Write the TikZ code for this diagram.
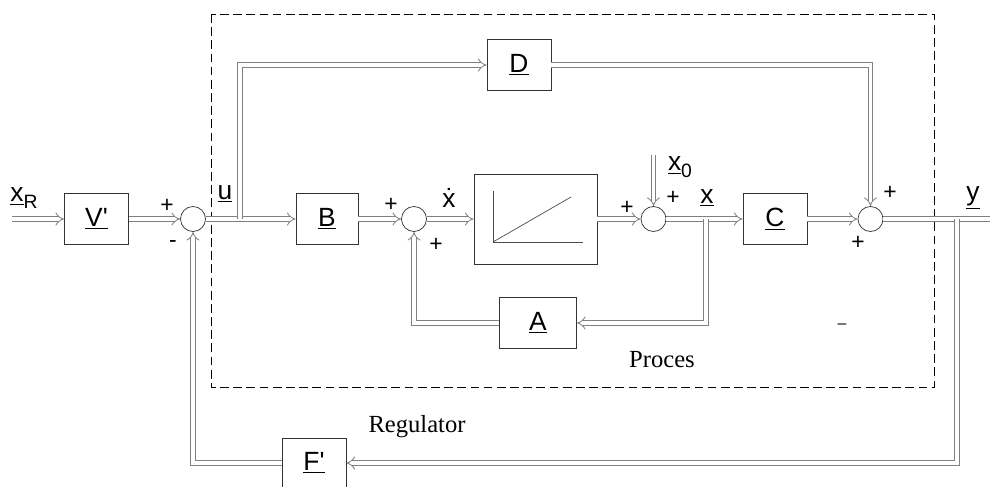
\documentclass[tikz,border=0pt]{standalone}
\usepackage{fontspec}
\setmainfont{Liberation Sans}
\newfontfamily\serif{Liberation Serif}
\usetikzlibrary{arrows.meta, positioning}
\newcommand{\vsub}[1]{\raisebox{-0.45ex}{\fontsize{11}{12}\selectfont #1}}

\begin{document}
\begin{tikzpicture}[
  x=0.02cm, y=-0.02cm,
  block/.style={rectangle, draw=black!80, thin, fill=white, minimum width=1.28cm, minimum height=1.02cm, font=\fontsize{15}{17}\selectfont},
  sum/.style={circle, draw=black!80, thin, fill=white, minimum size=0.5cm, inner sep=0pt},
  bus/.style={draw=black!50, double=white, double distance=2.2pt, line width=0.45pt},
  arrow/.style={bus, -{Implies}},
  sign/.style={font=\fontsize{13}{15}\selectfont, inner sep=0pt},
  sig/.style={font=\fontsize{15}{17}\selectfont, inner sep=0pt},
  caption/.style={font=\serif\fontsize{14}{16}\selectfont, inner sep=0pt}
]
\useasboundingbox (0,0) rectangle (995,487);

% Process boundary
\draw[dash pattern=on 5pt off 2.5pt] (211,14) rectangle (934,387);

% Blocks
\node (vgain) [block] at (96.5,219) {\underline{V\textquotesingle}};
\node (sum1) [sum] at (193,219) {};
\node (bmat) [block, minimum width=1.24cm] at (327,219) {\underline{B}};
\node (sum2) [sum] at (414,219) {};
\node (integ) [block, minimum width=2.46cm, minimum height=1.8cm] at (535.5,219) {};
\node (sum3) [sum] at (653.5,219) {};
\node (cmat) [block] at (775,219) {\underline{C}};
\node (sum4) [sum] at (870.5,219) {};
\node (dmat) [block] at (519,65) {\underline{D}};
\node (amat) [block, minimum width=1.54cm] at (538,323) {\underline{A}};
\node (fgain) [block, minimum height=1.0cm] at (314,463) {\underline{F\textquotesingle}};

% Integrator characteristic
\draw[black!70] (493,191) -- (493,242) -- (583,242);
\draw[black!70] (493,242) -- (571,197);

% Free ends and branch points
\coordinate (xin) at (12,219);
\coordinate (x0in) at (653.5,155);
\coordinate (yout) at (990,219);
\coordinate (ubr) at (240,219);
\coordinate (xbr) at (706,219);
\coordinate (ybr) at (957,219);

% Forward path
\draw[arrow] (xin) -- (vgain);
\draw[arrow] (vgain) -- (sum1);
\draw[arrow] (sum1) -- (bmat);
\draw[arrow] (bmat) -- (sum2);
\draw[arrow] (sum2) -- (integ);
\draw[arrow] (integ) -- (sum3);
\draw[arrow] (sum3) -- (cmat);
\draw[arrow] (cmat) -- (sum4);
\draw[bus] (sum4) -- (yout);
\draw[arrow] (x0in) -- (sum3);

% Feedthrough and feedback
\draw[arrow] (ubr) |- (dmat);
\draw[arrow] (dmat) -| (sum4);
\draw[arrow] (xbr) |- (amat);
\draw[arrow] (amat) -| (sum2);
\draw[arrow] (ybr) |- (fgain);
\draw[arrow] (fgain) -| (sum1);

% Signals and signs
\node (xrlab) [sig] at (24,198) {\underline{x}\vsub{R}};
\node (s1p) [sign] at (167,206) {+};
\node (s1m) [sign] at (173,244) {-};
\node (ulab) [sig] at (225,194) {\underline{u}};
\node (s2p) [sign] at (391,205) {+};
\node (s2q) [sign] at (436,245) {+};
\node (xdlab) [sig] at (449,198) {ẋ};
\node (s3p) [sign] at (627,208) {+};
\node (s3q) [sign] at (673,198) {+};
\node (x0lab) [sig] at (680,167) {\underline{x}\vsub{0}};
\node (xlab) [sig] at (707,198) {\underline{x}};
\node (s4p) [sign] at (890,193) {+};
\node (s4q) [sign] at (858,243) {+};
\node (dash) [sign, font=\fontsize{9}{10}\selectfont] at (842,326) {–};
\node (ylab) [sig] at (973,198) {\underline{y}};
\node (reglab) [caption] at (417,427) {Regulator};
\node (proclab) [caption] at (662,360) {Proces};
\end{tikzpicture}
\end{document}
